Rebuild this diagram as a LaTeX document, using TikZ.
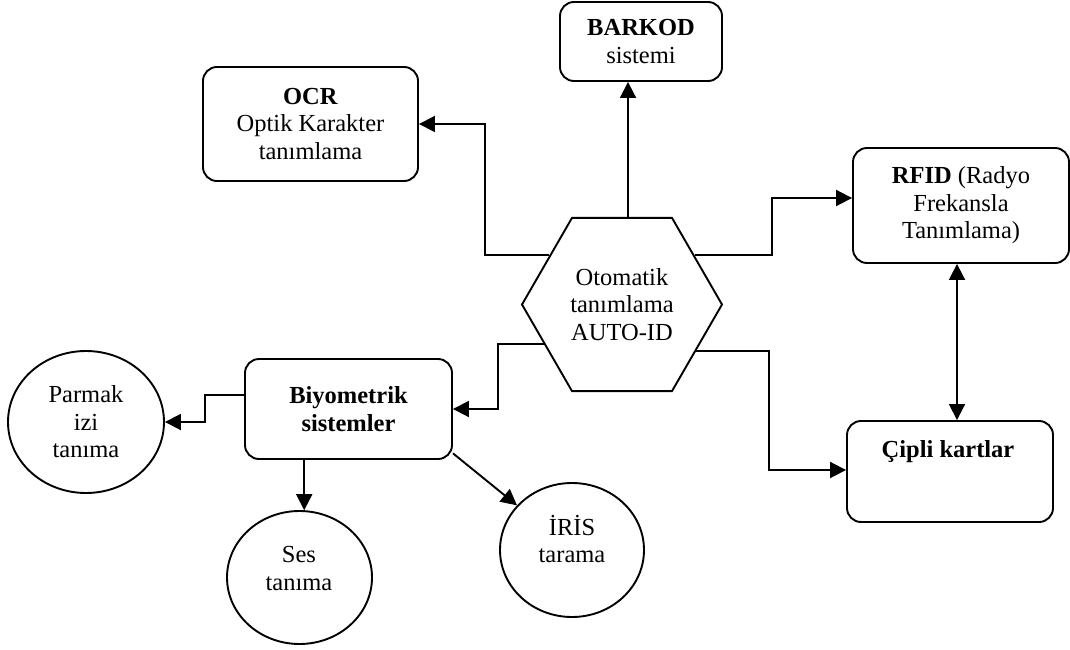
\documentclass[tikz,border=0pt]{standalone}
\usepackage{fontspec}
\setmainfont{Liberation Serif}
\usetikzlibrary{shapes.geometric,arrows.meta,calc}
\begin{document}
\begin{tikzpicture}[x=1pt,y=-1pt,
  every node/.style={font=\fontsize{24.5}{27.5}\selectfont, align=center, inner sep=0pt},
  box/.style={draw, line width=1.9pt, rounded corners=14pt},
  ell/.style={draw, ellipse, line width=1.9pt},
  conn/.style={line width=1.9pt},
  tip/.style={},
  arr/.style={conn, -{Triangle[length=16pt,width=16pt]}},
  darr/.style={conn, {Triangle[length=16pt,width=16pt]}-{Triangle[length=16pt,width=16pt]}}]
\useasboundingbox (0,0) rectangle (1070,650);

\node[box, minimum width=162pt, minimum height=79pt] (barkod) at (641,41.5) {\textbf{BARKOD}\\sistemi};
\node[box, minimum width=215pt, minimum height=114pt] (ocr) at (310.5,124) {\textbf{OCR}\\Optik Karakter\\tanımlama};
\node[box, minimum width=216pt, minimum height=115pt] (rfid) at (961,205.5) {\textbf{RFID} (Radyo\\Frekansla\\Tanımlama)};
\node[draw, regular polygon, regular polygon sides=6, minimum size=200pt, line width=1.9pt] (hex) at (622,304.5) {Otomatik\\tanımlama\\AUTO-ID};
\node[box, minimum width=207pt, minimum height=100pt] (bio) at (348.5,409) {\textbf{Biyometrik}\\\textbf{sistemler}};
\node[box, minimum width=206pt, minimum height=101pt] (cipli) at (950,471.5) {};
\node (cipliT) at (948,452) {\textbf{Çipli kartlar}};
\node[ell, minimum width=156pt, minimum height=142pt] (parmak) at (86,422) {Parmak\\izi\\tanıma};
\node[ell, minimum width=145pt, minimum height=133pt] (ses) at (299.5,577.5) {};
\node (sesT) at (299,568.5) {Ses\\tanıma};
\node[ell, minimum width=144pt, minimum height=134pt] (iris) at (572,550) {};
\node (irisT) at (572,539) {İRİS\\tarama};

\draw[arr] ([xshift=6pt]hex.north) -- ([xshift=6pt]hex.north |- barkod.south);
\draw[arr] (hex.146) -| ([xshift=66pt]ocr.east) -- (ocr.east);
\draw[arr] (hex.34) -| ([xshift=-80pt,yshift=7.5pt]rfid.west) -- ([yshift=7.5pt]rfid.west);
\draw[arr] (hex.207) -| ([xshift=45pt]bio.east) -- (bio.east);
\draw[arr] (hex.328) -| ([xshift=-77pt,yshift=1.5pt]cipli.west) -- ([yshift=1.5pt]cipli.west);
\draw[darr] ([xshift=-4pt]rfid.south) -- ([xshift=-4pt]rfid.south |- cipli.north);
\draw[arr] ([yshift=14pt]bio.west) -| ([xshift=40pt]parmak.east) -- (parmak.east);
\draw[arr] (bio.south -| ses.86) -- (ses.86);
\draw[arr] (bio.-23) -- (iris);
\end{tikzpicture}
\end{document}
